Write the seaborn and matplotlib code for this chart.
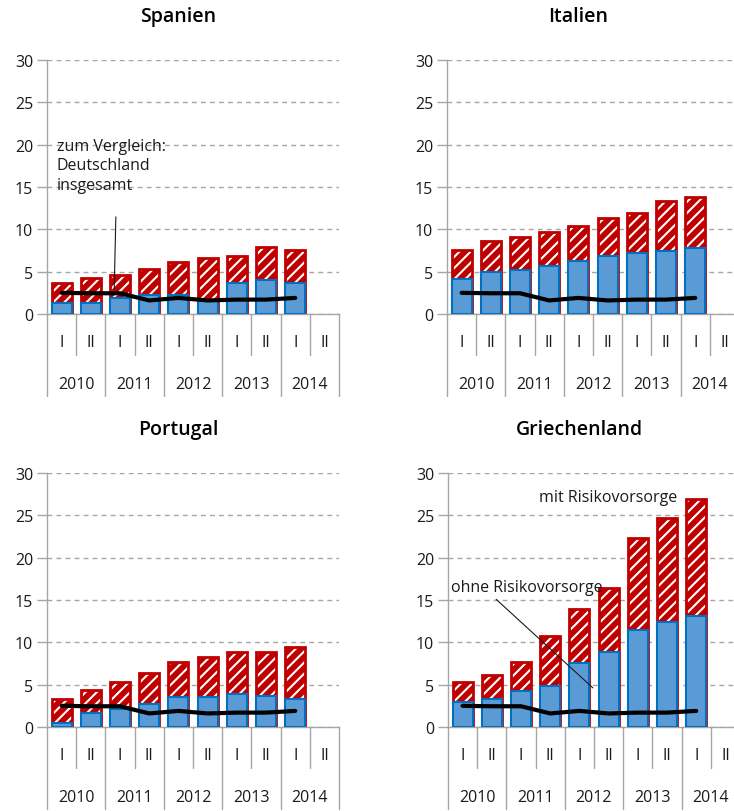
"""
Zinsaufwand / Risikovorsorge - Spanien, Italien, Portugal, Griechenland
stacked look: blue = ohne Risikovorsorge, red hatched = mit Risikovorsorge
"""

import numpy as np
import pandas as pd
import matplotlib
matplotlib.use("Agg")
import matplotlib.pyplot as plt
import seaborn as sns

# -------------------------------
# 1. DATA
# -------------------------------
years = ["2010", "2011", "2012", "2013", "2014"]
halves = ["I", "II"]
periods = [f"{y} {h}" for y in years for h in halves]   # 10 slots, last one empty

# zum Vergleich: Deutschland insgesamt (same line in every panel)
germany = [2.5, 2.45, 2.45, 1.6, 1.9, 1.6, 1.7, 1.7, 1.9]

spain_total = [3.7, 4.2, 4.65, 5.3, 6.15, 6.6, 6.8, 7.95, 7.55]
spain_base = [1.3, 1.3, 1.85, 2.2, 2.2, 1.5, 3.7, 4.0, 3.7]

italy_total = [7.55, 8.6, 9.05, 9.7, 10.4, 11.3, 11.9, 13.3, 13.8]
italy_base = [4.1, 5.0, 5.2, 5.7, 6.25, 6.8, 7.2, 7.45, 7.75]

portugal_total = [3.3, 4.35, 5.3, 6.4, 7.7, 8.3, 8.8, 8.8, 9.4]
portugal_base = [0.5, 1.6, 2.1, 2.7, 3.6, 3.6, 3.85, 3.7, 3.25]

greece_total = [5.3, 6.2, 7.7, 10.8, 13.9, 16.4, 22.3, 24.65, 26.95]
greece_base = [3.0, 3.25, 4.25, 4.85, 7.6, 8.9, 11.45, 12.35, 13.15]

titles = ["Spanien", "Italien", "Portugal", "Griechenland"]

# -------------------------------
# 2. STYLE
# -------------------------------
sns.set_style("white")
plt.rcParams["font.family"] = ["Open Sans", "DejaVu Sans"]
plt.rcParams["hatch.linewidth"] = 1.5

RED = "#C00000"
BLUE = "#5B9BD5"
BLUE_EDGE = "#0070C0"
GREY = "#A6A6A6"

fig = plt.figure(figsize=(7.34, 8.12), dpi=100)

# axes boxes in figure fractions: left, bottom, width, height
W, H = 292 / 734, 254 / 812
boxes = [
    (47 / 734, 1 - 315 / 812, W, H),
    (447 / 734, 1 - 315 / 812, W, H),
    (47 / 734, 1 - 728 / 812, W, H),
    (448 / 734, 1 - 728 / 812, W, H),
]

panels = [
    (spain_total, spain_base),
    (italy_total, italy_base),
    (portugal_total, portugal_base),
    (greece_total, greece_base),
]


def draw_panel(ax, total, base, title):
    df = pd.DataFrame({"period": periods[:len(total)], "total": total, "base": base})

    # red hatched part (mit Risikovorsorge)
    sns.barplot(data=df, x="period", y="total", order=periods, color=RED,
                saturation=1, width=0.68, hatch="///", edgecolor="white",
                linewidth=0, ax=ax, zorder=2)
    sns.barplot(data=df, x="period", y="total", order=periods, color=RED,
                saturation=1, width=0.68, fill=False, linewidth=2, ax=ax, zorder=3)
    # blue part (ohne Risikovorsorge)
    sns.barplot(data=df, x="period", y="base", order=periods, color=BLUE,
                saturation=1, width=0.68, edgecolor=BLUE_EDGE, linewidth=1.5,
                ax=ax, zorder=4)

    # Deutschland insgesamt
    ax.plot(np.arange(len(germany)), germany, color="black", lw=3,
            solid_capstyle="round", zorder=6)

    ax.set_xlim(-0.5, len(periods) - 0.5)
    ax.set_ylim(0, 30)
    ax.set_yticks(range(0, 31, 5))
    ax.set_xticks([])
    ax.set_xlabel("")
    ax.set_ylabel("")
    ax.set_axisbelow(True)
    ax.yaxis.grid(True, color=GREY, linestyle=(0, (3.5, 3)), linewidth=1)
    ax.tick_params(axis="y", length=7, width=1, color=GREY, direction="out",
                   labelsize=11.5, labelcolor="#1A1A1A", pad=3, left=True)
    for side in ["top", "right"]:
        ax.spines[side].set_visible(False)
    for side in ["left", "bottom"]:
        ax.spines[side].set_color(GREY)
        ax.spines[side].set_linewidth(1)

    # two-level category axis
    trans = ax.get_xaxis_transform()
    for i, p in enumerate(periods):
        ax.text(i, -0.112, p.split()[1], transform=trans, ha="center", va="center",
                fontsize=11.5, color="#1A1A1A")
    for k, y in enumerate(years):
        ax.text(2 * k + 0.5, -0.276, y, transform=trans, ha="center", va="center",
                fontsize=11.5, color="#1A1A1A")
    for k in range(len(years)):
        ax.plot([2 * k + 0.5] * 2, [0, -0.161], transform=trans, color=GREY,
                lw=1, clip_on=False)
    for k in range(len(years) + 1):
        ax.plot([2 * k - 0.5] * 2, [0, -0.323], transform=trans, color=GREY,
                lw=1, clip_on=False)

    ax.text(0.45, 1.173, title, transform=ax.transAxes, ha="center", va="center",
            fontsize=14, fontweight="semibold", color="black")


axes = []
for box, (total, base), title in zip(boxes, panels, titles):
    ax = fig.add_axes(box)
    draw_panel(ax, total, base, title)
    axes.append(ax)

# -------------------------------
# 3. ANNOTATIONS
# -------------------------------
ax_es, ax_gr = axes[0], axes[3]
ax_es.text(-0.16, 20.8, "zum Vergleich:\nDeutschland\ninsgesamt", ha="left", va="top",
           fontsize=11.5, linespacing=1.3, color="#1A1A1A", zorder=8)
ax_es.annotate("", xy=(1.8, 2.6), xytext=(1.86, 11.8),
               arrowprops=dict(arrowstyle="-", color="#1A1A1A", lw=0.8), zorder=8)

ax_gr.text(2.62, 27.2, "mit Risikovorsorge", ha="left", va="center",
           fontsize=11.5, color="#1A1A1A", zorder=8)
ax_gr.text(-0.4, 16.5, "ohne Risikovorsorge", ha="left", va="center",
           fontsize=11.5, color="#1A1A1A", zorder=8)
ax_gr.annotate("", xy=(4.53, 4.4), xytext=(1.08, 15.3),
               arrowprops=dict(arrowstyle="-", color="#1A1A1A", lw=0.8), zorder=8)

fig.savefig("out.png", dpi=100)
plt.close(fig)
